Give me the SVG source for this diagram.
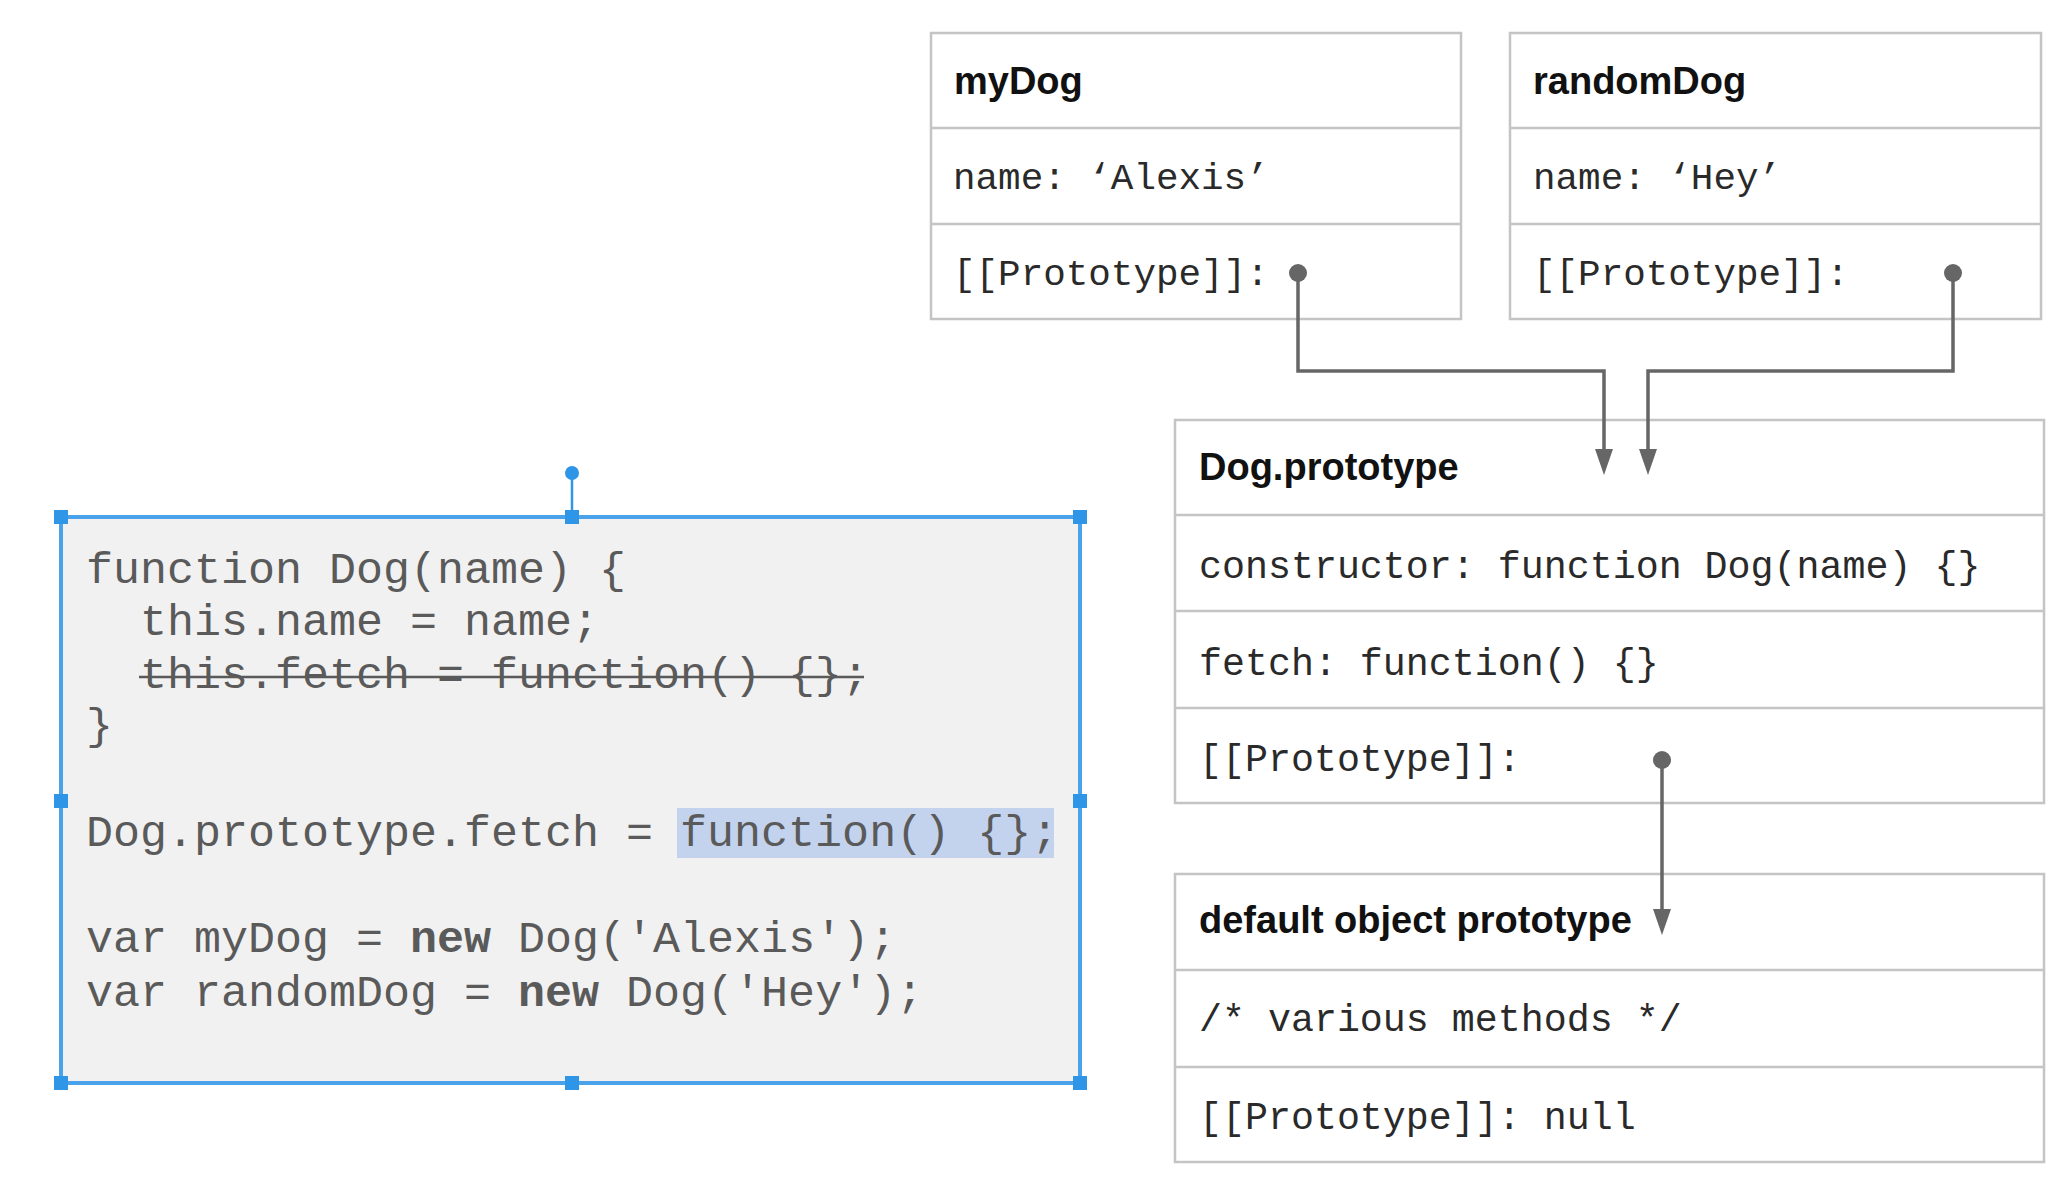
<svg xmlns="http://www.w3.org/2000/svg" width="2070" height="1182" viewBox="0 0 2070 1182">
<defs>
<style>
.box{fill:#fff;stroke:#c4c4c4;stroke-width:2.5}
.div{stroke:#c4c4c4;stroke-width:2.5}
.title{font-family:"Liberation Sans",Arial,sans-serif;font-weight:bold;font-size:38px;fill:#111}
.row{font-family:"Liberation Mono","Courier New",monospace;font-size:37.6px;fill:#2a2a2a}
.row2{font-family:"Liberation Mono","Courier New",monospace;font-size:38.3px;fill:#2a2a2a}
.code{font-family:"Liberation Mono","Courier New",monospace;font-size:45px;fill:#5a5a5a}
.conn{fill:none;stroke:#666;stroke-width:3.5}
.dot{fill:#666}
.sel{fill:none;stroke:#4aa3ea;stroke-width:4}
.h{fill:#2f95e6}
</style>
</defs>
<rect width="2070" height="1182" fill="#fff"/>

<g id="code-box">
<rect x="61" y="517" width="1019" height="566" fill="#f1f1f1"/>
<rect x="677" y="808" width="377" height="50" fill="#c3d3ee"/>
<rect class="sel" x="61" y="517" width="1019" height="566"/>
<text class="code" x="86" y="583" xml:space="preserve">function Dog(name) {</text>
<text class="code" x="86" y="635" xml:space="preserve">  this.name = name;</text>
<text class="code" x="86" y="688" xml:space="preserve">  this.fetch = function() {};</text>
<line x1="139" y1="677" x2="864" y2="677" stroke="#5a5a5a" stroke-width="2.5"/>
<text class="code" x="86" y="739" xml:space="preserve">}</text>
<text class="code" x="86" y="846" xml:space="preserve">Dog.prototype.fetch = function() {};</text>
<text class="code" x="86" y="952" xml:space="preserve">var myDog = <tspan font-weight="bold">new</tspan> Dog('Alexis');</text>
<text class="code" x="86" y="1006" xml:space="preserve">var randomDog = <tspan font-weight="bold">new</tspan> Dog('Hey');</text>
<line x1="572" y1="473" x2="572" y2="517" stroke="#2f95e6" stroke-width="2.5"/>
<circle cx="572" cy="473" r="7" class="h"/>
<rect class="h" x="54" y="510" width="14" height="14"/>
<rect class="h" x="565" y="510" width="14" height="14"/>
<rect class="h" x="1073" y="510" width="14" height="14"/>
<rect class="h" x="54" y="794" width="14" height="14"/>
<rect class="h" x="1073" y="794" width="14" height="14"/>
<rect class="h" x="54" y="1076" width="14" height="14"/>
<rect class="h" x="565" y="1076" width="14" height="14"/>
<rect class="h" x="1073" y="1076" width="14" height="14"/>
</g>

<g id="myDog">
<rect class="box" x="931" y="33" width="530" height="286"/>
<line class="div" x1="931" y1="128" x2="1461" y2="128"/>
<line class="div" x1="931" y1="224" x2="1461" y2="224"/>
<text class="title" x="954" y="94">myDog</text>
<text class="row" x="953" y="189" xml:space="preserve">name: ‘Alexis’</text>
<text class="row" x="953" y="285" xml:space="preserve">[[Prototype]]:</text>
</g>

<g id="randomDog">
<rect class="box" x="1510" y="33" width="531" height="286"/>
<line class="div" x1="1510" y1="128" x2="2041" y2="128"/>
<line class="div" x1="1510" y1="224" x2="2041" y2="224"/>
<text class="title" x="1533" y="94">randomDog</text>
<text class="row" x="1533" y="189" xml:space="preserve">name: ‘Hey’</text>
<text class="row" x="1533" y="285" xml:space="preserve">[[Prototype]]:</text>
</g>

<g id="dogPrototype">
<rect class="box" x="1175" y="420" width="869" height="383"/>
<line class="div" x1="1175" y1="515" x2="2044" y2="515"/>
<line class="div" x1="1175" y1="611" x2="2044" y2="611"/>
<line class="div" x1="1175" y1="708" x2="2044" y2="708"/>
<text class="title" x="1199" y="480">Dog.prototype</text>
<text class="row2" x="1199" y="578" xml:space="preserve">constructor: function Dog(name) {}</text>
<text class="row2" x="1199" y="675" xml:space="preserve">fetch: function() {}</text>
<text class="row2" x="1199" y="771" xml:space="preserve">[[Prototype]]:</text>
</g>

<g id="defaultObjectPrototype">
<rect class="box" x="1175" y="874" width="869" height="288"/>
<line class="div" x1="1175" y1="970" x2="2044" y2="970"/>
<line class="div" x1="1175" y1="1067" x2="2044" y2="1067"/>
<text class="title" x="1199" y="933">default object prototype</text>
<text class="row2" x="1199" y="1031" xml:space="preserve">/* various methods */</text>
<text class="row2" x="1199" y="1129" xml:space="preserve">[[Prototype]]: null</text>
</g>

<g id="connectors">
<path class="conn" d="M1298,273 V371 H1604 V452"/>
<path d="M1595,449 L1613,449 L1604,475 Z" fill="#666"/>
<circle class="dot" cx="1298" cy="273" r="9"/>
<path class="conn" d="M1953,273 V371 H1648 V452"/>
<path d="M1639,449 L1657,449 L1648,475 Z" fill="#666"/>
<circle class="dot" cx="1953" cy="273" r="9"/>
<path class="conn" d="M1662,760 V912"/>
<path d="M1653,909 L1671,909 L1662,935 Z" fill="#666"/>
<circle class="dot" cx="1662" cy="760" r="9"/>
</g>
</svg>
